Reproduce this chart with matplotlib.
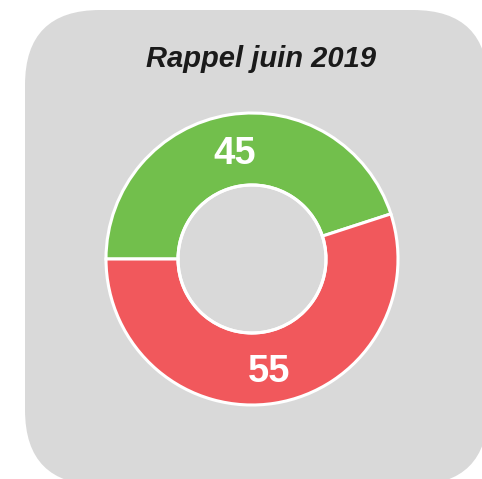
import matplotlib
matplotlib.use("Agg")
import matplotlib.pyplot as plt
from matplotlib.patches import FancyBboxPatch

title = "Rappel juin 2019"
categories = ["Oui", "Non"]
values = [45, 55]
colors = ["#72bf4c", "#f1585c"]

W, H = 482, 479
fig = plt.figure(figsize=(W / 100, H / 100), dpi=100)
ax = fig.add_axes([0, 0, 1, 1])
ax.set_xlim(0, W)
ax.set_ylim(0, H)
ax.set_aspect("equal")
ax.axis("off")

box = FancyBboxPatch((25, -6), 463, 475, boxstyle="round,pad=0,rounding_size=75",
                     facecolor="#d9d9d9", edgecolor="none", zorder=0)
ax.add_patch(box)

cx, cy, r_out, r_in = 252, 220, 146, 74
total = sum(values)
wedges, texts, autotexts = ax.pie(
    values, colors=colors, startangle=180, counterclock=False,
    center=(cx, cy), radius=r_out, frame=True,
    wedgeprops=dict(width=r_out - r_in, edgecolor="white", linewidth=2.2),
    autopct=lambda p: f"{p * total / 100:.0f}", pctdistance=(r_out + r_in) / 2 / r_out,
    textprops=dict(color="white", fontsize=27.5, fontweight="bold", family="Liberation Sans"),
)
for t in autotexts:
    x, y = t.get_position()
    t.set_position((x, y - 4))
inner = plt.Circle((cx, cy), r_in, facecolor="none", edgecolor="white", linewidth=2.2, zorder=5)
ax.add_patch(inner)

ax.set_xlim(0, W)
ax.set_ylim(0, H)
ax.axis("off")

ax.text(261, 420, title, ha="center", va="center", fontsize=21, fontweight="bold",
        fontstyle="italic", family="Liberation Sans", color="#1a1a1a")

fig.savefig("out.png", dpi=100)
